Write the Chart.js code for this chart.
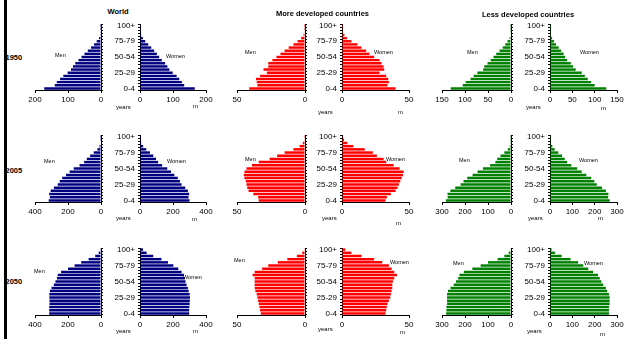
<!DOCTYPE html>
<html>
<head>
<meta charset="utf-8">
<title>Population pyramids 1950, 2005, 2050</title>
<script src="https://cdn.jsdelivr.net/npm/chart.js@4.4.1/dist/chart.umd.min.js"></script>
<style>
  html, body { margin: 0; padding: 0; background: #fff; }
  #page { position: relative; width: 628px; height: 339px; overflow: hidden; background: #fff;
          font-family: Arial, "Liberation Sans", sans-serif; color: #000; }
  #page canvas { position: absolute; }
  .txt { position: absolute; white-space: nowrap; line-height: 1; }
  .bold { font-weight: bold; }
  #rule { position: absolute; left: 4px; top: 0; width: 3px; height: 339px; background: #000; z-index: 5; }
</style>
</head>
<body>
<div id="page"><div id="rule"></div></div>
<script>
// Age groups, youngest first (drawn bottom to top)
const ageGroups = ['0-4','5-9','10-14','15-19','20-24','25-29','30-34','35-39','40-44','45-49',
  '50-54','55-59','60-64','65-69','70-74','75-79','80-84','85-89','90-94','95-99','100+'];

// Population in millions, by age group
const world1950Men   = [172, 140, 134, 124, 114, 101, 91, 85, 78, 68, 59, 50, 40, 30, 21, 13, 6, 2.4, 0.7, 0.15, 0.02];
const world1950Women = [166, 134, 127, 119, 111, 99, 89, 83, 76, 66, 58, 51, 43, 34, 25, 16, 8.5, 3.5, 1.1, 0.25, 0.03];
const more1950Men    = [41, 35, 35.5, 36, 33, 28, 30.5, 27, 27, 24, 21, 18, 15, 12, 8.5, 5.5, 2.8, 1.1, 0.3, 0.05, 0.01];
const more1950Women  = [40, 34, 35, 34.5, 33, 28, 31.5, 31, 29.5, 28, 24, 20.5, 18, 14.5, 11.5, 7, 3.7, 1.8, 0.6, 0.12, 0.02];
const less1950Men    = [131, 105, 98.5, 88, 81, 73, 60.5, 58, 51, 44, 38, 32, 25, 18, 12.5, 7.5, 3.2, 1.3, 0.4, 0.1, 0.01];
const less1950Women  = [126, 100, 92, 84.5, 78, 71, 57.5, 52, 46.5, 38, 34, 30.5, 25, 19.5, 13.5, 9, 4.8, 1.7, 0.5, 0.13, 0.01];

const world2005Men   = [317, 310, 314, 305, 285, 262, 250, 235, 212, 190, 165, 130, 102, 86, 66, 44, 22, 9, 2.8, 0.6, 0.08];
const world2005Women = [300, 294, 298, 290, 274, 252, 242, 229, 208, 188, 165, 134, 110, 97, 80, 60, 38, 19, 7, 1.6, 0.2];
const more2005Men    = [34, 34.5, 38, 41.5, 42.5, 43, 43.5, 44.5, 45, 44.5, 43, 39, 34, 26, 20.5, 15, 8.5, 4, 1.6, 0.5, 0.05];
const more2005Women  = [32.5, 33.5, 36.5, 40, 41.5, 42.5, 43.5, 44.5, 45.5, 46, 43, 38.5, 33, 31, 26, 23, 17, 8.5, 4, 1.5, 0.2];
const less2005Men    = [283, 275.5, 276, 263.5, 242.5, 219, 206.5, 190.5, 167, 145.5, 122, 91, 68, 60, 45.5, 29, 13.5, 5, 1.2, 0.2, 0.03];
const less2005Women  = [267.5, 260.5, 261.5, 250, 232.5, 209.5, 198.5, 184.5, 162.5, 142, 122, 95.5, 77, 66, 54, 37, 21, 10.5, 3, 0.6, 0.05];

const world2050Men   = [314, 314, 314, 312, 312, 313, 313, 310, 300, 286, 276, 267, 262, 242, 200, 160, 120, 75, 35, 14, 5];
const world2050Women = [298, 298, 299, 301, 302, 303, 301, 295, 290, 282, 276, 272, 266, 252, 232, 202, 170, 130, 80, 40, 18];
const more2050Men    = [32.5, 33, 33.5, 34, 34.5, 35, 35.5, 36.5, 37, 37, 37, 37, 38.5, 37, 31.5, 27, 20, 13, 6, 2, 0.5];
const more2050Women  = [32.5, 33, 33.5, 34, 35, 36, 36.5, 37, 37.5, 37.5, 38, 39, 41, 39, 37, 35, 30, 24, 14.5, 7, 2.5];
const less2050Men    = [282, 281, 281, 278, 278, 278, 278, 274, 263, 249, 239, 230, 224, 205, 168, 132, 100, 58, 29, 10, 3];
const less2050Women  = [264, 264, 264, 267, 267, 267, 264, 256, 250, 238, 230, 223, 215, 193, 171, 149, 126, 92, 52, 22, 7];

const regionTitles = ['World', 'More developed countries', 'Less developed countries'];
const years = ['1950', '2005', '2050'];

// Axis ranges per panel: [max, step]
const axisRanges = [
  [[200, 100], [50, 50], [150, 50]],
  [[400, 200], [50, 50], [300, 100]],
  [[400, 200], [50, 50], [300, 100]]
];

const barColors = ['#000080', '#ff0000', '#008000'];

const series = [
  [[world1950Men, world1950Women], [more1950Men, more1950Women], [less1950Men, less1950Women]],
  [[world2005Men, world2005Women], [more2005Men, more2005Women], [less2005Men, less2005Women]],
  [[world2050Men, world2050Women], [more2050Men, more2050Women], [less2050Men, less2050Women]]
];

// ---- layout (page pixels) ----
const colBoxes = [
  { men: [35, 101], women: [140, 206] },
  { men: [237, 305], women: [342, 409] },
  { men: [442, 511], women: [550, 617] }
];
const rowBoxes = [[24, 90], [135, 202], [248, 315]];

const page = document.getElementById('page');

function addText(str, x, y, size, opts = {}) {
  const d = document.createElement('div');
  d.className = 'txt' + (opts.bold ? ' bold' : '');
  d.textContent = str;
  d.style.fontSize = size + 'px';
  d.style.top = (y - size / 2) + 'px';
  if (opts.center) {
    d.style.left = x + 'px';
    d.style.transform = 'translateX(-50%)';
  } else {
    d.style.left = x + 'px';
  }
  page.appendChild(d);
}

const PAD_T = 4, XAXIS_H = 16, PAD_X = 12, MEN_YW = 4, WOMEN_YW = 34;

function sideChart(isMen, data, range, color, xr, yr) {
  let left, width;
  if (isMen) { left = xr[0] - PAD_X; width = (xr[1] - xr[0]) + PAD_X + MEN_YW; }
  else { left = xr[0] - WOMEN_YW; width = (xr[1] - xr[0]) + WOMEN_YW + PAD_X; }
  const top = yr[0] - PAD_T;
  const height = (yr[1] - yr[0]) + PAD_T + XAXIS_H;
  const c = document.createElement('canvas');
  c.width = width; c.height = height;
  c.style.left = left + 'px'; c.style.top = top + 'px';
  c.style.width = width + 'px'; c.style.height = height + 'px';
  page.appendChild(c);

  const noPad = s => { s.paddingLeft = 0; s.paddingRight = 0; s.paddingTop = 0; s.paddingBottom = 0; };

  new Chart(c, {
    type: 'bar',
    data: {
      labels: ageGroups,
      datasets: [{ data: data, backgroundColor: color, borderWidth: 0,
                   barPercentage: 0.78, categoryPercentage: 1 }]
    },
    options: {
      indexAxis: 'y',
      responsive: false,
      animation: false,
      events: [],
      devicePixelRatio: 1,
      layout: { padding: isMen ? { left: PAD_X, top: PAD_T, right: 0, bottom: 0 }
                               : { left: 0, top: PAD_T, right: PAD_X, bottom: 0 } },
      plugins: { legend: { display: false }, tooltip: { enabled: false } },
      scales: {
        x: {
          type: 'linear', reverse: isMen, min: 0, max: range[0],
          ticks: { stepSize: range[1], color: '#000', font: { size: 8, family: 'Arial' },
                   padding: 2, maxRotation: 0, autoSkip: false },
          grid: { drawOnChartArea: false, drawTicks: true, tickLength: 3, color: '#000' },
          border: { color: '#000', width: 1 },
          afterFit: s => { s.height = XAXIS_H; noPad(s); }
        },
        y: {
          position: isMen ? 'right' : 'left', reverse: true,
          ticks: { autoSkip: false, color: '#000', font: { size: 8, family: 'Arial' }, padding: 3,
                   callback: (v, i) => (!isMen && i % 5 === 0) ? ageGroups[i] : '' },
          grid: { drawOnChartArea: false, tickLength: 2, color: '#000', offset: true },
          border: { color: '#000', width: 1 },
          afterFit: s => { s.width = isMen ? MEN_YW : WOMEN_YW; noPad(s); }
        }
      }
    }
  });
}

for (let r = 0; r < 3; r++) {
  for (let col = 0; col < 3; col++) {
    const [menData, womenData] = series[r][col];
    sideChart(true, menData, axisRanges[r][col], barColors[col], colBoxes[col].men, rowBoxes[r]);
    sideChart(false, womenData, axisRanges[r][col], barColors[col], colBoxes[col].women, rowBoxes[r]);
  }
}

// Column titles
addText(regionTitles[0], 118, 12, 7.5, { bold: true, center: true });
addText(regionTitles[1], 322.5, 13.5, 7.5, { bold: true, center: true });
addText(regionTitles[2], 528, 14.5, 7.5, { bold: true, center: true });

// Year labels
addText(years[0], 5.5, 57.5, 7.5, { bold: true });
addText(years[1], 5.5, 171, 7.5, { bold: true });
addText(years[2], 5.5, 282, 7.5, { bold: true });

// Sex labels inside each pyramid
const sexLabelPos = [
  [[55, 56, 166, 57], [245, 52.5, 374, 52.5], [467, 52.5, 580, 52.5]],
  [[44, 162, 167, 162], [245, 160, 386, 159.5], [459, 161, 579, 161]],
  [[34, 271.5, 183, 278], [234, 261, 390, 263], [453, 264, 584, 264]]
];
// Unit labels below each pyramid
const unitLabelPos = [
  [[116, 107, 193, 105.5], [318, 112, 398, 112], [526, 107, 601, 108]],
  [[116, 218, 192, 219], [322, 218, 396, 223], [528, 218, 598, 218]],
  [[116, 331, 193, 331], [318, 329, 400, 332], [527, 331, 600, 334]]
];
for (let r = 0; r < 3; r++) {
  for (let col = 0; col < 3; col++) {
    const s = sexLabelPos[r][col];
    addText('Men', s[0], s[1], 5.5);
    addText('Women', s[2], s[3], 5.5);
    const u = unitLabelPos[r][col];
    addText('years', u[0], u[1], 6);
    addText('m', u[2], u[3], 6);
  }
}
</script>
</body>
</html>
